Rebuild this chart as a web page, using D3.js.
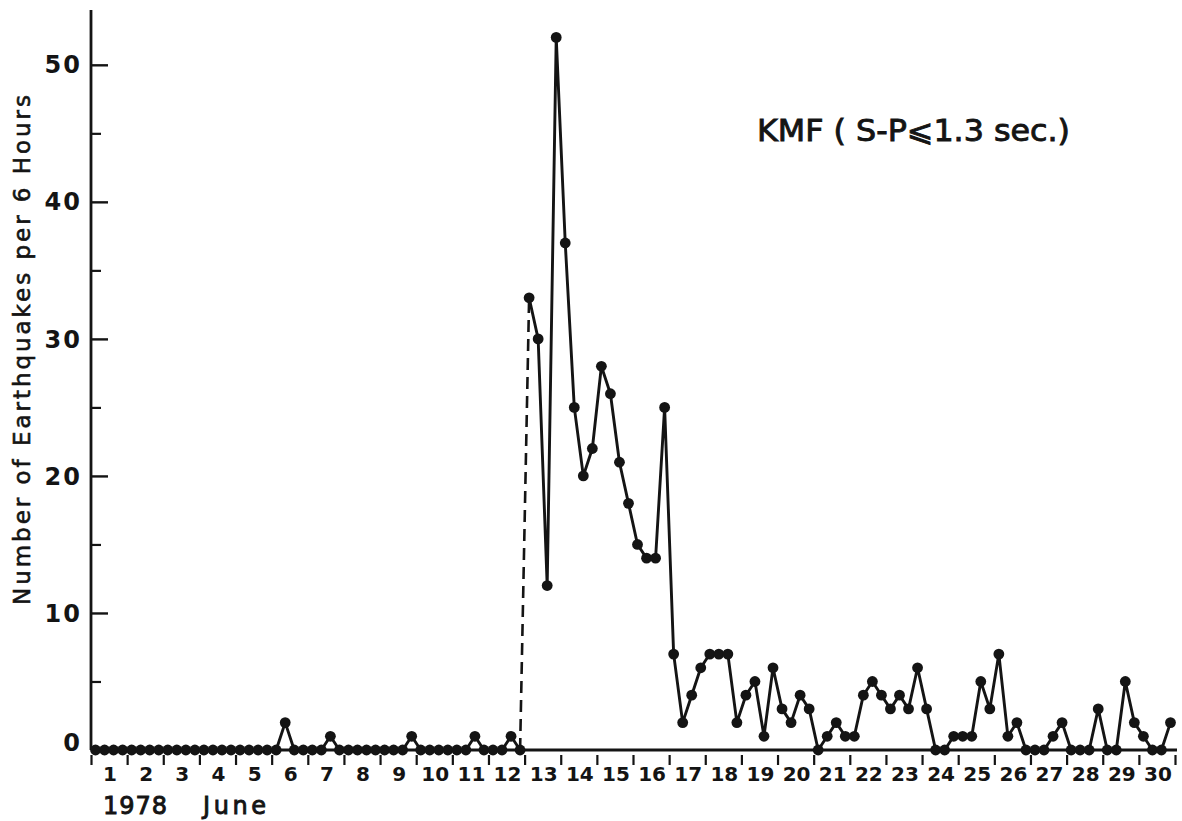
<!DOCTYPE html>
<html>
<head>
<meta charset="utf-8">
<script src="https://cdn.jsdelivr.net/npm/d3@7"></script>
<style>
  html, body { margin: 0; padding: 0; background: #fff; }
  svg { display: block; }
</style>
</head>
<body>
<svg id="chart" width="1182" height="821"></svg>
<script>
// ---- data ----
const dayLabels = d3.range(1, 31).map(String);           // June 1..30
const binsPerDay = 4;                                     // 6-hour bins
// Number of earthquakes per 6 hours (4 values per day), June 1..30, 1978
const counts = [
  0,0,0,0,  0,0,0,0,  0,0,0,0,  0,0,0,0,  0,0,0,0,        // 1-5
  0,2,0,0,  0,0,1,0,  0,0,0,0,  0,0,0,1,  0,0,0,0,        // 6-10
  0,0,1,0,  0,0,1,0,                                      // 11-12
  33,30,12,52,  37,25,20,22,  28,26,21,18,  15,14,14,25,  // 13-16
  7,2,4,6,  7,7,7,2,  4,5,1,6,  3,2,4,3,                  // 17-20
  0,1,2,1,  1,4,5,4,  3,4,3,6,  3,0,0,1,  1,1,5,3,        // 21-25
  7,1,2,0,  0,0,1,2,  0,0,0,3,  0,0,5,2,  1,0,0,2         // 26-30
];
const mainshockIndex = 48;                                // first bin after the mainshock
const yMajorTicks = [0, 10, 20, 30, 40, 50];
const yMinorTicks = [5, 15, 25, 35, 45];
const titleText = "KMF ( S-P\u2A7D1.3 sec.)";
const yTitle = "Number of Earthquakes per 6 Hours";
const yearText = "1978";
const monthText = "June";

// ---- layout ----
const svg = d3.select("#chart");
const ink = "#141414";
const x0 = 91, x1 = 1175, yBase = 750, yTop = 10;

const x = d3.scaleLinear().domain([0, dayLabels.length]).range([x0, x1]);
const y = d3.scaleLinear().domain([0, 54]).range([yBase, yTop]);
const px = i => x((i + 0.5) / binsPerDay);

// axes lines
svg.append("line").attr("x1", x0).attr("x2", x0).attr("y1", yTop).attr("y2", yBase)
  .attr("stroke", ink).attr("stroke-width", 2.8);
svg.append("line").attr("x1", x0).attr("x2", x1 + 2).attr("y1", yBase).attr("y2", yBase)
  .attr("stroke", ink).attr("stroke-width", 2.8);

// y ticks (inward)
const yMajor = d3.axisRight(y).tickValues(yMajorTicks.filter(v => v > 0)).tickSize(17).tickFormat("");
svg.append("g").attr("transform", `translate(${x0},0)`).call(yMajor)
  .call(g => g.select(".domain").remove())
  .call(g => g.selectAll("line").attr("stroke", ink).attr("stroke-width", 2.4));
const yMinor = d3.axisRight(y).tickValues(yMinorTicks).tickSize(10).tickFormat("");
svg.append("g").attr("transform", `translate(${x0},0)`).call(yMinor)
  .call(g => g.select(".domain").remove())
  .call(g => g.selectAll("line").attr("stroke", ink).attr("stroke-width", 2.2));

// y tick labels
svg.append("g").selectAll("text").data(yMajorTicks).join("text")
  .attr("x", 82)
  .attr("y", d => d === 0 ? y(d) - 8 : y(d))
  .attr("dy", "0.36em")
  .attr("text-anchor", "end")
  .attr("font-family", "DejaVu Sans")
  .attr("font-weight", "bold")
  .attr("font-size", 24)
  .attr("letter-spacing", 2)
  .attr("fill", ink)
  .text(d => d);

// x ticks (day boundaries), hanging below the axis with a small gap
const xAxis = d3.axisBottom(x).tickValues(d3.range(0, dayLabels.length + 1)).tickSize(10).tickFormat("");
svg.append("g").attr("transform", `translate(0,${yBase + 5})`).call(xAxis)
  .call(g => g.select(".domain").remove())
  .call(g => g.selectAll("line").attr("stroke", ink).attr("stroke-width", 2.2));

// day labels centred in each day
svg.append("g").selectAll("text").data(dayLabels).join("text")
  .attr("x", (d, i) => x(i + 0.5) + 1)
  .attr("y", 781)
  .attr("text-anchor", "middle")
  .attr("font-family", "DejaVu Sans")
  .attr("font-weight", "bold")
  .attr("font-size", 20)
  .attr("fill", ink)
  .text(d => d);

svg.append("text").attr("x", 103).attr("y", 814)
  .attr("font-family", "DejaVu Sans").attr("font-size", 24)
  .attr("textLength", 64).attr("lengthAdjust", "spacing")
  .attr("fill", ink).attr("stroke", ink).attr("stroke-width", 0.9)
  .text(yearText);
svg.append("text").attr("x", 203).attr("y", 814)
  .attr("font-family", "DejaVu Sans").attr("font-size", 24)
  .attr("textLength", 63).attr("lengthAdjust", "spacing")
  .attr("fill", ink).attr("stroke", ink).attr("stroke-width", 0.9)
  .text(monthText);

// y-axis title
svg.append("text")
  .attr("transform", "translate(30,350) rotate(-90)")
  .attr("text-anchor", "middle")
  .attr("font-family", "DejaVu Sans")
  .attr("font-size", 23)
  .attr("textLength", 510).attr("lengthAdjust", "spacing")
  .attr("fill", ink)
  .attr("stroke", ink).attr("stroke-width", 0.6)
  .text(yTitle);

// chart label
svg.append("text")
  .attr("x", 757).attr("y", 141)
  .attr("font-family", "DejaVu Sans")
  .attr("font-size", 30)
  .attr("textLength", 313).attr("lengthAdjust", "spacingAndGlyphs")
  .attr("fill", ink)
  .attr("stroke", ink).attr("stroke-width", 0.9)
  .text(titleText);

// ---- series ----
const pts = counts.map((v, i) => ({ i, v }));
const line = d3.line().x(d => px(d.i)).y(d => y(d.v));

svg.append("path").datum(pts.slice(0, mainshockIndex))
  .attr("d", line).attr("fill", "none").attr("stroke", ink).attr("stroke-width", 2.9)
  .attr("stroke-linejoin", "round");
svg.append("path").datum(pts.slice(mainshockIndex))
  .attr("d", line).attr("fill", "none").attr("stroke", ink).attr("stroke-width", 2.9)
  .attr("stroke-linejoin", "round");
// dashed link across the mainshock
svg.append("path").datum(pts.slice(mainshockIndex - 1, mainshockIndex + 1))
  .attr("d", line).attr("fill", "none").attr("stroke", ink).attr("stroke-width", 2.6)
  .attr("stroke-dasharray", "12,7");

svg.append("g").selectAll("circle").data(pts).join("circle")
  .attr("cx", d => px(d.i)).attr("cy", d => y(d.v))
  .attr("r", 5.4).attr("fill", ink);
</script>
</body>
</html>
